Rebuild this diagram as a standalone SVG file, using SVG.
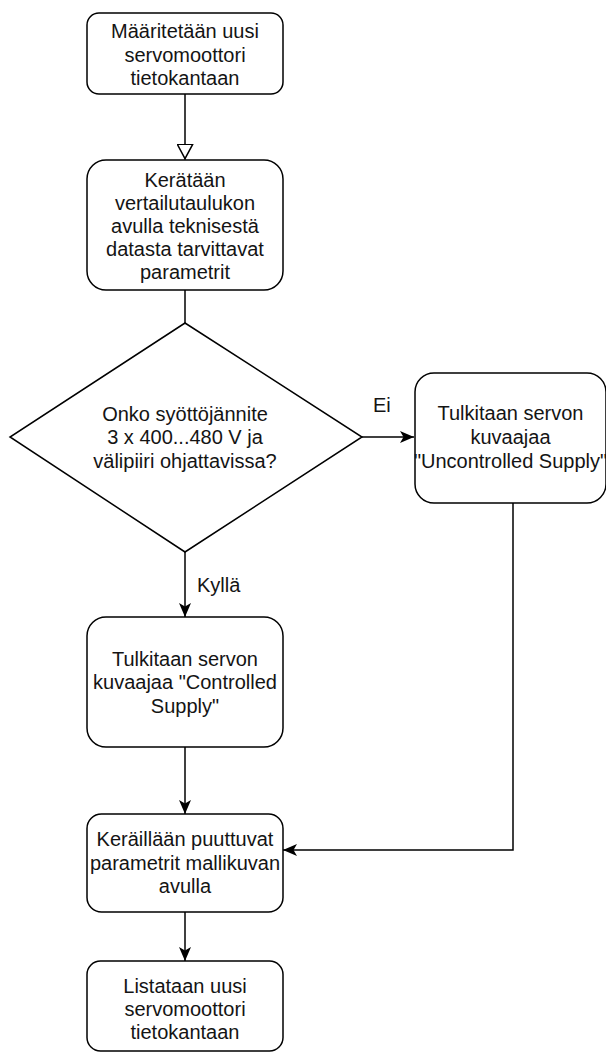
<svg xmlns="http://www.w3.org/2000/svg" width="606" height="1053" viewBox="0 0 606 1053">
  <style>
    .box { fill: #ffffff; stroke: #000000; stroke-width: 1.5; }
    .edge { fill: none; stroke: #000000; stroke-width: 1.5; }
    text { font-family: "Liberation Sans", Arial, Helvetica, sans-serif; font-size: 20px; fill: #141414; }
    .c { text-anchor: middle; }
  </style>
  <defs>
    <marker id="classic" viewBox="0 0 14 12" refX="14" refY="6" markerWidth="14" markerHeight="12" markerUnits="userSpaceOnUse" orient="auto">
      <path d="M0,0 L14,6 L0,12 L3.5,6 Z" fill="#000000"/>
    </marker>
    <marker id="block-open" viewBox="0 0 16 17" refX="16" refY="8.5" markerWidth="16" markerHeight="17" markerUnits="userSpaceOnUse" orient="auto">
      <path d="M0.8,0.8 L15.2,8.5 L0.8,16.2 Z" fill="#ffffff" stroke="#000000" stroke-width="1.5"/>
    </marker>
  </defs>

  <rect width="606" height="1053" fill="#ffffff"/>

  <g id="connectors">
    <path class="edge" d="M185,94 L185,159.5" marker-end="url(#block-open)"/>
    <path class="edge" d="M185,290 L185,323"/>
    <path class="edge" d="M362,437 L414,437" marker-end="url(#classic)"/>
    <path class="edge" d="M185,552 L185,617" marker-end="url(#classic)"/>
    <path class="edge" d="M185,747 L185,814" marker-end="url(#classic)"/>
    <path class="edge" d="M513,503 L513,850 L283,850" marker-end="url(#classic)"/>
    <path class="edge" d="M185,912 L185,961" marker-end="url(#classic)"/>
    <text x="373" y="412">Ei</text>
    <text x="197" y="592">Kyllä</text>
  </g>

  <g id="node-define">
    <rect class="box" x="87" y="13" width="196" height="81" rx="12" ry="12"/>
    <text class="c" x="185" y="38">Määritetään uusi</text>
    <text class="c" x="185" y="61.5">servomoottori</text>
    <text class="c" x="185" y="85">tietokantaan</text>
  </g>

  <g id="node-collect">
    <rect class="box" x="87" y="160" width="196" height="130" rx="19" ry="19"/>
    <text class="c" x="185" y="186.5">Kerätään</text>
    <text class="c" x="185" y="209.5">vertailutaulukon</text>
    <text class="c" x="185" y="232.5">avulla teknisestä</text>
    <text class="c" x="185" y="255.5">datasta tarvittavat</text>
    <text class="c" x="185" y="278.5">parametrit</text>
  </g>

  <g id="node-decision">
    <polygon class="box" points="185,323 362,437 185,552 10,437"/>
    <text class="c" x="185" y="420.5">Onko syöttöjännite</text>
    <text class="c" x="185" y="444">3 x 400...480 V ja</text>
    <text class="c" x="185" y="467.5">välipiiri ohjattavissa?</text>
  </g>

  <g id="node-uncontrolled">
    <rect class="box" x="415" y="373" width="191" height="130" rx="19" ry="19"/>
    <text class="c" x="510.5" y="420">Tulkitaan servon</text>
    <text class="c" x="510.5" y="444">kuvaajaa</text>
    <text class="c" x="510.5" y="467.5">"Uncontrolled Supply"</text>
  </g>

  <g id="node-controlled">
    <rect class="box" x="87" y="617" width="196" height="130" rx="19" ry="19"/>
    <text class="c" x="185" y="665.5">Tulkitaan servon</text>
    <text class="c" x="185" y="689">kuvaajaa "Controlled</text>
    <text class="c" x="185" y="712.5">Supply"</text>
  </g>

  <g id="node-missing">
    <rect class="box" x="87" y="814" width="196" height="98" rx="14.5" ry="14.5"/>
    <text class="c" x="185" y="846">Keräillään puuttuvat</text>
    <text class="c" x="185" y="869.5">parametrit mallikuvan</text>
    <text class="c" x="185" y="893">avulla</text>
  </g>

  <g id="node-list">
    <rect class="box" x="87" y="961" width="196" height="90" rx="13.5" ry="13.5"/>
    <text class="c" x="185" y="993">Listataan uusi</text>
    <text class="c" x="185" y="1016">servomoottori</text>
    <text class="c" x="185" y="1039">tietokantaan</text>
  </g>
</svg>
